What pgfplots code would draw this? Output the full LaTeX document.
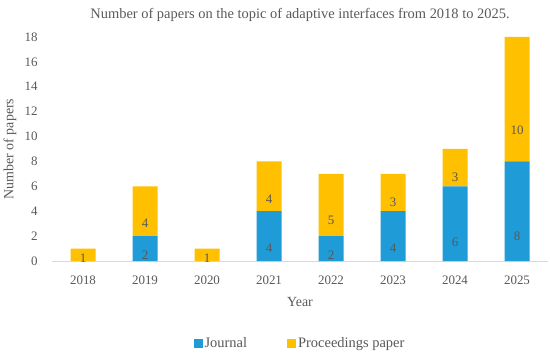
\documentclass[border=0pt]{standalone}
\usepackage{fontspec}
\setmainfont{Liberation Serif}
\usepackage{pgfplots}
\pgfplotsset{compat=1.18}
\definecolor{jblue}{HTML}{1F9BD7}
\definecolor{pyel}{HTML}{FFC000}
\definecolor{txt}{HTML}{595959}
\definecolor{axl}{HTML}{D9D9D9}
\begin{document}
\begin{tikzpicture}
\begin{axis}[
  x=62bp, y=12.45bp,
  xmin=-0.5, xmax=7.5, ymin=0, ymax=18,
  ybar stacked, bar width=25bp,
  /pgf/number format/assume math mode=true,
  font=\fontsize{13}{15}\selectfont,
  axis line style={draw=none},
  axis x line*=bottom,
  axis y line*=left,
  xtick=data, xticklabels={2018,2019,2020,2021,2022,2023,2024,2025},
  ytick={0,2,...,18},
  major tick length=0pt,
  tick label style={text=txt},
  xticklabel style={yshift=-11bp},
  yticklabel style={xshift=-11bp},
  xlabel={Year}, ylabel={Number of papers},
  label style={text=txt, font=\fontsize{14}{16}\selectfont},
  xlabel style={at={(axis description cs:0.5,0)}, anchor=center, yshift=-41bp},
  ylabel style={at={(axis description cs:-0.0847,0.5)}, anchor=center},
  title={Number of papers on the topic of adaptive interfaces from 2018 to 2025.},
  title style={text=txt, font=\fontsize{14.5}{16}\selectfont, at={(axis description cs:0.5,1)}, anchor=center, yshift=16bp},
  legend style={draw=none, at={(axis description cs:0.5,0)}, anchor=center, yshift=-82bp, legend columns=2, font=\fontsize{14.5}{16}\selectfont, text=txt, /tikz/every even column/.append style={column sep=38bp}},
  legend image code/.code={\fill[#1,draw=none] (0bp,-4.5bp) rectangle (9bp,4.5bp);},
  visualization depends on={rawy \as \rawy},
  nodes near coords={\ifdim\rawy pt>0pt \pgfmathprintnumber{\rawy}\fi},
  every node near coord/.append style={anchor=center, text=txt, font=\fontsize{13}{15}\selectfont, yshift={-3.12375*\rawy}},
]
\addplot[fill=jblue, draw=none] coordinates {(0,0) (1,2) (2,0) (3,4) (4,2) (5,4) (6,6) (7,8)};
\addplot[fill=pyel, draw=none] coordinates {(0,1) (1,4) (2,1) (3,4) (4,5) (5,3) (6,3) (7,10)};
\legend{Journal, Proceedings paper}
\draw[axl, line width=0.8bp] (axis cs:-0.5,0) -- (axis cs:7.5,0);
\end{axis}
\pgfresetboundingbox
\path (current axis.south west) ++(-52bp,-93bp) rectangle ++(550bp,354bp);
\end{tikzpicture}
\end{document}
